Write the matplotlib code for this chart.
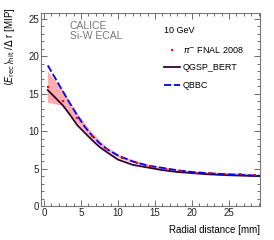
import matplotlib
matplotlib.use('Agg')
import matplotlib.pyplot as plt
from matplotlib.ticker import MultipleLocator
import numpy as np

plt.rcParams['font.family'] = ['Liberation Sans', 'DejaVu Sans']

# data points (pi- FNAL 2008)
r_data = [0.5, 2.5, 4.5, 6.5, 8.5, 10.5, 12.5, 14.5, 16.5, 18.5, 20.5, 22.5, 24.5, 26.5, 28.5]
e_data = [15.95, 14.1, 11.7, 9.4, 7.6, 6.45, 5.8, 5.3, 4.95, 4.68, 4.45, 4.37, 4.3, 4.28, 4.14]
band_lo = [13.8, 13.4, 11.1, 9.0, 7.35, 6.25, 5.62, 5.15, 4.82, 4.56, 4.34, 4.27, 4.2, 4.18, 4.05]
band_hi = [18.0, 15.6, 12.4, 9.8, 7.85, 6.65, 5.98, 5.45, 5.08, 4.8, 4.56, 4.47, 4.4, 4.38, 4.23]

# simulations
r_sim = [0.5, 1.5, 2.5, 3.5, 4.5, 5.5, 6.5, 7.5, 8.5, 10, 12, 14, 16, 18, 20, 22, 24, 26, 28, 29.2]
qgsp = [15.5, 14.5, 13.5, 12.2, 10.8, 9.8, 8.8, 7.9, 7.2, 6.2, 5.5, 5.15, 4.8, 4.55, 4.4, 4.25, 4.15, 4.08, 4.02, 4.0]
qbbc = [18.8, 17.1, 15.4, 13.7, 12.1, 10.6, 9.4, 8.4, 7.6, 6.75, 5.95, 5.4, 5.1, 4.78, 4.55, 4.4, 4.28, 4.18, 4.1, 4.05]

fig = plt.figure(figsize=(2.74, 2.4), dpi=100)
ax = fig.add_axes([0.150, 0.1417, 0.799, 0.804])

ax.fill_between(r_data, band_lo, band_hi, facecolor='#ff9999', edgecolor='none', alpha=0.8)
ax.plot(r_sim, qgsp, color='#330033', lw=1.3, label='QGSP_BERT')
ax.plot(r_sim, qbbc, color='#0000ff', lw=1.3, ls=(0, (4, 1.5)), label='QBBC')
ax.plot(r_data, e_data, 's', color='red', ms=1.8, mew=0, label=r'$\pi^{-}$ FNAL 2008')

ax.set_xlim(-0.4, 29.2)
ax.set_ylim(0, 25.8)
ax.xaxis.set_major_locator(MultipleLocator(5))
ax.xaxis.set_minor_locator(MultipleLocator(1))
ax.yaxis.set_major_locator(MultipleLocator(5))
ax.yaxis.set_minor_locator(MultipleLocator(1))
ax.tick_params(which='both', direction='in', top=True, right=True, labelsize=7, colors='#555555', labelcolor='#222222', pad=1.5)
ax.tick_params(which='major', length=4, width=0.6)
ax.tick_params(which='minor', length=2, width=0.6)
for s in ax.spines.values():
    s.set_color('#777777')
    s.set_linewidth(0.8)

ax.text(0.132, 0.958, 'CALICE\nSi-W ECAL', transform=ax.transAxes, color='#777777',
        fontsize=7.5, va='top', ha='left', linespacing=0.95)

leg = ax.legend(loc='upper left', bbox_to_anchor=(0.543, 0.955), frameon=False, fontsize=6.5,
                title='10 GeV', title_fontsize=6.5, handlelength=1.7, handletextpad=0.3,
                labelspacing=0.95, borderpad=0, markerscale=1.0,
                handles=[ax.lines[2], ax.lines[0], ax.lines[1]])
leg._legend_box.align = 'left'

fig.text(0.035, 0.97, r'$\langle E_{\rm rec}\rangle_{\rm hit}$ /$\Delta$ r [MIP]', rotation=90,
         ha='center', va='top', fontsize=7)
fig.text(0.949, 0.042, 'Radial distance [mm]', ha='right', va='center', fontsize=7)

fig.savefig('out.png', dpi=100)
